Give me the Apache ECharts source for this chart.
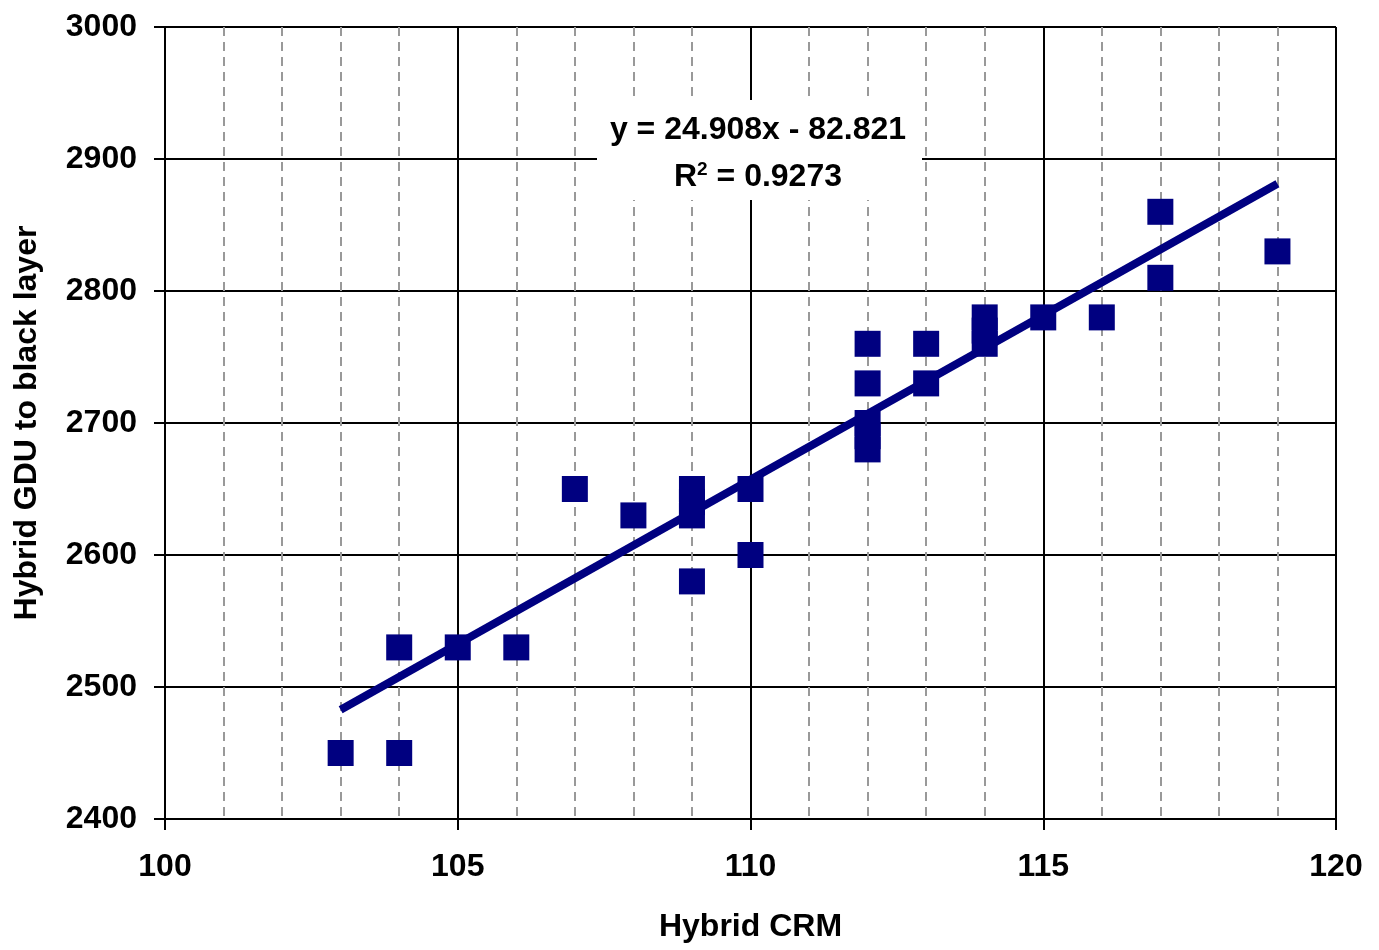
<!DOCTYPE html>
<html>
<head>
<meta charset="utf-8">
<script src="https://cdn.jsdelivr.net/npm/echarts@6/dist/echarts.min.js"></script>
<style>
html,body{margin:0;padding:0;background:#fff;}
#chart{width:1379px;height:950px;}
</style>
</head>
<body>
<div id="chart"></div>
<script>
// Data
const crm = [103, 104, 104, 105, 106, 107, 108, 109, 109, 109, 109, 110, 110,
             112, 112, 112, 112, 112, 113, 113, 114, 114, 114, 115, 116, 117, 117, 119];
const gdu = [2450, 2450, 2530, 2530, 2530, 2650, 2630, 2650, 2640, 2630, 2580, 2650, 2600,
             2760, 2730, 2700, 2690, 2680, 2760, 2730, 2780, 2770, 2760, 2780, 2780, 2860, 2810, 2830];
const trendX = [103, 119];
const trendY = [2482.7, 2881.2];
const equationText = 'y = 24.908x - 82.821';
const r2Text = '0.9273';
const xTitle = 'Hybrid CRM';
const yTitle = 'Hybrid GDU to black layer';

const points = crm.map((x, i) => [x, gdu[i]]);
const trend = trendX.map((x, i) => [x, trendY[i]]);

const chart = echarts.init(document.getElementById('chart'));
const font = '"Liberation Sans", Arial, sans-serif';
const navy = '#000080';

chart.setOption({
  animation: false,
  backgroundColor: '#fff',
  grid: { left: 165, right: 43, top: 27, bottom: 131 },
  xAxis: {
    type: 'value', min: 100, max: 120, interval: 5,
    name: xTitle, nameLocation: 'middle', nameGap: 92,
    nameTextStyle: { fontFamily: font, fontWeight: 'bold', fontSize: 32, color: '#000' },
    axisLine: { show: true, onZero: false, lineStyle: { color: '#000', width: 2 } },
    axisTick: { show: true, inside: false, length: 11, lineStyle: { color: '#000', width: 2 } },
    minorTick: { show: false, splitNumber: 5 },
    axisLabel: { margin: 32, fontFamily: font, fontWeight: 'bold', fontSize: 32, color: '#000',
                 formatter: v => String(v) },
    splitLine: { show: true, lineStyle: { color: '#000', width: 2 } },
    minorSplitLine: { show: true, lineStyle: { color: '#999', width: 2, type: [9, 6] } }
  },
  yAxis: {
    type: 'value', min: 2400, max: 3000, interval: 100,
    name: yTitle, nameLocation: 'middle', nameGap: 122, nameRotate: 90,
    nameTextStyle: { fontFamily: font, fontWeight: 'bold', fontSize: 32, color: '#000' },
    axisLine: { show: true, onZero: false, lineStyle: { color: '#000', width: 2 } },
    axisTick: { show: true, inside: false, length: 11, lineStyle: { color: '#000', width: 2 } },
    axisLabel: { margin: 28, fontFamily: font, fontWeight: 'bold', fontSize: 32, color: '#000',
                 formatter: v => String(v) },
    splitLine: { show: true, lineStyle: { color: '#000', width: 2 } }
  },
  series: [
    {
      type: 'scatter', data: points, symbol: 'rect', symbolSize: 26,
      itemStyle: { color: navy, opacity: 1 }, z: 3
    },
    {
      type: 'line', data: trend, symbol: 'none',
      lineStyle: { color: navy, width: 8 }, z: 4
    }
  ],
  graphic: [
    {
      type: 'rect', shape: { x: 597, y: 100, width: 325, height: 100 },
      style: { fill: '#fff' }, z: 10
    },
    {
      type: 'text', x: 758, y: 130, z: 11,
      style: {
        text: equationText, align: 'center', verticalAlign: 'middle',
        font: 'bold 32px ' + font, fill: '#000'
      }
    },
    {
      type: 'text', x: 758, y: 177, z: 11,
      style: {
        text: '{a|R}{s|2}{a| = ' + r2Text + '}', align: 'center', verticalAlign: 'middle',
        rich: {
          a: { fontFamily: font, fontWeight: 'bold', fontSize: 32, color: '#000' },
          s: { fontFamily: font, fontWeight: 'bold', fontSize: 19, color: '#000', verticalAlign: 'top', padding: [0, 0, 14, 0] }
        }
      }
    }
  ]
});
</script>
</body>
</html>
